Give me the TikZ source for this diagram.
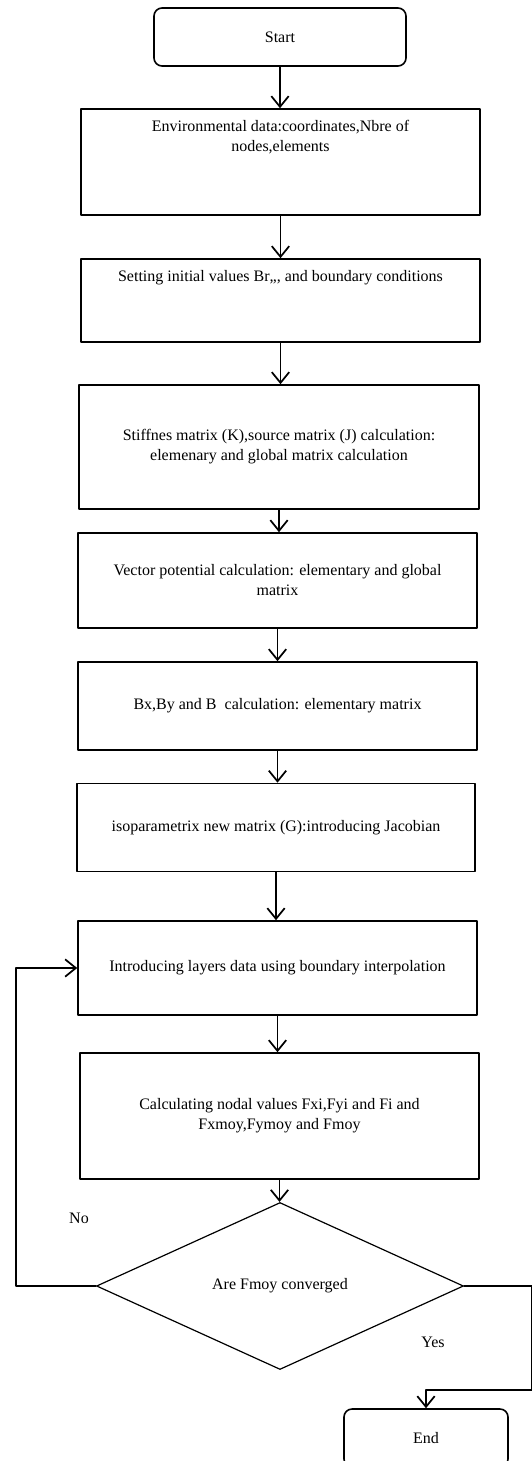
\documentclass[tikz,border=0pt]{standalone}
\usepackage{fontspec}
\setmainfont{Liberation Serif}
\usetikzlibrary{arrows.meta,shapes.geometric}

\begin{document}
\begin{tikzpicture}[x=0.75pt,y=-0.75pt,line cap=round,line join=round,>={Straight Barb[length=8pt,width=13pt]},
  proc/.style={draw,line width=1.2pt,inner sep=0pt,align=center,font=\fontsize{12}{15}\selectfont},
  term/.style={proc,rounded corners=6pt},
  dec/.style={draw,diamond,line width=0.9pt,inner sep=0pt,font=\fontsize{12}{15}\selectfont},
  lbl/.style={font=\fontsize{12}{15}\selectfont},
  arr/.style={->,line width=1.3pt}]
\useasboundingbox (0,0) rectangle (532,1461);
\clip (0,0) rectangle (532,1461);
\node[term,minimum width=189pt,minimum height=43.5pt] (start) at (280,37) {Start};
\node[proc,minimum width=299.25pt,minimum height=79.5pt] (env) at (280.5,162) {\parbox[c][79.5pt][t]{299pt}{\centering\rule{0pt}{17pt}Environmental data:coordinates,Nbre of\\nodes,elements}};
\node[proc,minimum width=299.25pt,minimum height=62.25pt] (init) at (280.5,300.5) {\parbox[c][62.25pt][t]{299pt}{\centering\rule{0pt}{17pt}Setting initial values Br,,, and boundary conditions}};
\node[proc,minimum width=300pt,minimum height=93pt] (stiff) at (279,447) {Stiffnes matrix (K),source matrix (J) calculation:\\elemenary and global matrix calculation};
\node[proc,minimum width=299.25pt,minimum height=71.25pt] (vect) at (277.5,580.5) {Vector potential calculation: elementary and global\\matrix};
\node[proc,minimum width=299.25pt,minimum height=66pt] (bcalc) at (277.5,706) {Bx,By and B\ \ calculation: elementary matrix};
\node[proc,minimum width=298.5pt,minimum height=66pt] (iso) at (276,827.5) {isoparametrix new matrix (G):introducing Jacobian};
\node[proc,minimum width=299.25pt,minimum height=70.5pt] (lay) at (277.5,968) {Introducing layers data using boundary interpolation};
\node[proc,minimum width=299.25pt,minimum height=94.5pt] (nodal) at (279.5,1116) {Calculating nodal values Fxi,Fyi and Fi and\\Fxmoy,Fymoy and Fmoy};
\node[dec,minimum width=275.25pt,minimum height=125.25pt] (conv) at (280,1286) {Are Fmoy converged};
\node[term,minimum width=123pt,minimum height=43.5pt] (stop) at (426,1438) {End};
\node[lbl] (no) at (79,1218) {No};
\node[lbl] (yes) at (433,1342) {Yes};
\draw[arr] (start.south) -- (start.south |- env.north);
\draw[arr] (env.south) -- (env.south |- init.north);
\draw[arr] (init.south) -- (init.south |- stiff.north);
\draw[arr] (stiff.south) -- (stiff.south |- vect.north);
\draw[arr] (vect.south) -- (vect.south |- bcalc.north);
\draw[arr] (bcalc.south) -- (bcalc.south |- iso.north);
\draw[arr] (iso.south) -- (iso.south |- lay.north);
\draw[arr] (lay.south) -- (lay.south |- nodal.north);
\draw[arr] (nodal.south) -- (nodal.south |- conv.north);
\draw[arr] (conv.west) -- ++(-80,0) |- (lay.west);
\draw[arr] (conv.east) -- ++(68,0) -- ++(0,104) -| (stop.north);
\end{tikzpicture}
\end{document}
